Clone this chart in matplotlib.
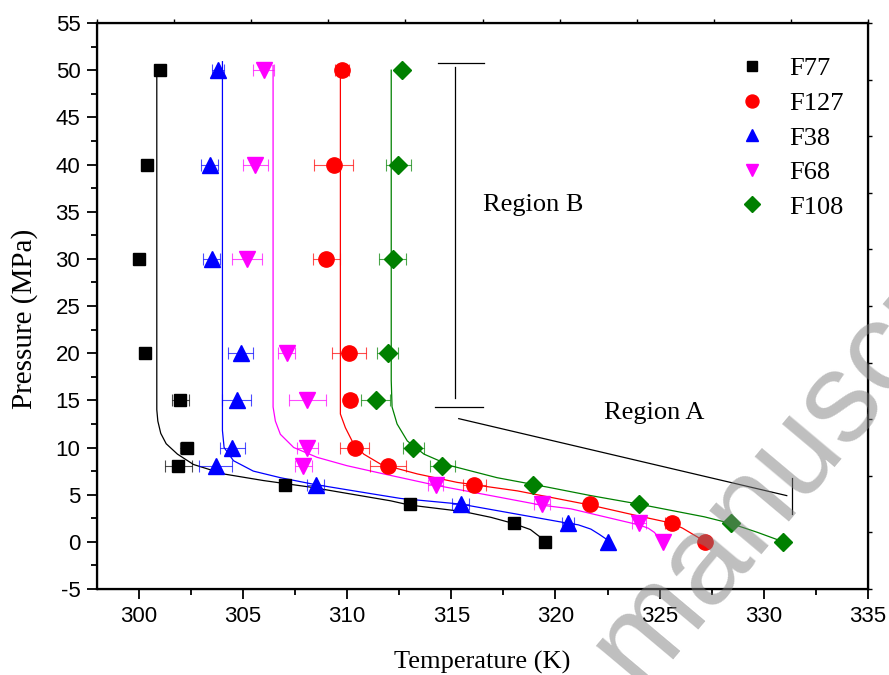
import matplotlib
matplotlib.use('Agg')
import matplotlib.pyplot as plt
from matplotlib.lines import Line2D

plt.rcParams['axes.unicode_minus'] = False

# measured points (temperature K at each pressure MPa)
pressure = [50, 40, 30, 20, 15, 10, 8, 6, 4, 2, 0]

t_f77 = [301.0, 300.4, 300.0, 300.3, 302.0, 302.3, 301.9, 307.0, 313.0, 318.0, 319.5]
t_f127 = [309.75, 309.35, 309.0, 310.1, 310.13, 310.36, 311.96, 316.1, 321.67, 325.58, 327.18]
t_f38 = [303.8, 303.4, 303.5, 304.9, 304.7, 304.5, 303.7, 308.5, 315.45, 320.6, 322.5]
t_f68 = [306.0, 305.6, 305.2, 307.1, 308.1, 308.1, 307.9, 314.25, 319.35, 324.0, 325.15]
t_f108 = [312.65, 312.45, 312.2, 311.95, 311.37, 313.18, 314.57, 318.9, 324.0, 328.43, 330.9]

err_f77 = [0, 0, 0, 0, 0.4, 0.3, 0.65, 0, 0, 0, 0]
err_f127 = [0.35, 0.95, 0.65, 0.8, 0.3, 0.7, 0.85, 0.55, 0, 0.3, 0]
err_f38 = [0.3, 0.4, 0.4, 0.6, 0.7, 0.6, 0.8, 0.4, 0.4, 0.3, 0]
err_f68 = [0.5, 0.6, 0.7, 0.4, 0.9, 0.5, 0.4, 0.35, 0.4, 0.35, 0]
err_f108 = [0, 0.6, 0.65, 0.5, 0.7, 0.5, 0.6, 0, 0, 0, 0]

# fitted curves, vertices
fit_f77_t = [300.87, 300.87, 300.92, 301.06, 301.32, 301.86, 302.63, 304.07, 305.98, 308.24,
             312.09, 313.0, 315.6, 316.9, 317.98, 318.8, 319.3, 319.5]
fit_f77_p = [49.9, 14.0, 12.8, 11.5, 10.4, 9.3, 8.2, 7.2, 6.5, 5.8,
             4.35, 3.9, 3.2, 2.6, 1.95, 1.3, 0.45, 0.0]
fit_f127_t = [309.68, 309.68, 309.92, 310.24, 310.8, 311.6, 313.37, 315.29, 318.18, 321.67,
              323.95, 325.58, 326.1, 326.9, 327.18]
fit_f127_p = [50.35, 13.55, 12.1, 10.7, 9.3, 8.25, 7.2, 6.3, 5.4, 3.9,
              2.76, 1.98, 1.45, 0.4, 0.03]
fit_f38_t = [304.02, 304.02, 304.1, 304.55, 305.5, 306.8, 308.4, 311.28, 312.57, 315.45,
             320.4, 321.1, 321.7, 322.1, 322.5]
fit_f38_p = [50.9, 11.8, 10.0, 8.6, 7.5, 6.8, 6.1, 5.06, 4.6, 4.0,
             2.05, 1.8, 1.35, 0.8, 0.2]
fit_f68_t = [306.45, 306.45, 306.56, 306.8, 307.44, 308.56, 310.0, 311.76, 314.25, 319.3,
             320.74, 324.0, 324.45, 324.75, 325.15]
fit_f68_p = [50.5, 14.3, 12.8, 11.4, 10.0, 8.96, 8.07, 7.2, 6.0, 3.9,
             3.5, 1.8, 1.45, 1.0, -0.1]
fit_f108_t = [312.12, 312.12, 312.16, 312.4, 312.89, 313.69, 314.97, 317.2, 319.62, 321.7,
              324.0, 327.15, 328.43, 329.7, 330.9]
fit_f108_p = [50.0, 17.1, 14.3, 12.5, 10.7, 9.3, 8.07, 6.8, 5.8, 4.9,
              4.0, 2.65, 1.94, 1.0, 0.03]

# region brackets
reg_b_top_t = [314.35, 316.56]
reg_b_top_p = [50.8, 50.8]
reg_b_vert_t = [315.16, 315.16]
reg_b_vert_p = [50.3, 15.3]
reg_b_bot_t = [314.2, 316.5]
reg_b_bot_p = [14.3, 14.3]
reg_a_diag_t = [315.36, 331.1]
reg_a_diag_p = [13.06, 4.9]
reg_a_vert_t = [331.37, 331.37]
reg_a_vert_p = [6.8, 3.0]

serif = 'Liberation Serif'
sans = 'Liberation Sans'

fig = plt.figure(figsize=(8.89, 6.75), dpi=100)
ax = fig.add_axes([0.1091, 0.1274, 0.8673, 0.8385])

series = [
    ('F77', t_f77, err_f77, fit_f77_t, fit_f77_p, 'black', 's', 9),
    ('F127', t_f127, err_f127, fit_f127_t, fit_f127_p, 'red', 'o', 11),
    ('F38', t_f38, err_f38, fit_f38_t, fit_f38_p, 'blue', '^', 11),
    ('F68', t_f68, err_f68, fit_f68_t, fit_f68_p, 'magenta', 'v', 11),
    ('F108', t_f108, err_f108, fit_f108_t, fit_f108_p, 'green', 'D', 9),
]

handles = []
for name, t, err, ft, fp, c, mk, ms in series:
    ax.plot(ft, fp, color=c, lw=0.9, zorder=2)
    ax.errorbar(t, pressure, xerr=err, fmt='none', ecolor=c, elinewidth=0.8,
                capsize=4, capthick=0.8, alpha=0.7, zorder=3)
    ax.plot(t, pressure, ls='none', marker=mk, ms=ms, color=c, mec=c, zorder=4)
    handles.append(Line2D([], [], ls='none', marker=mk, ms=ms * 0.85, color=c))

for bt, bp in [(reg_b_top_t, reg_b_top_p), (reg_b_vert_t, reg_b_vert_p), (reg_b_bot_t, reg_b_bot_p),
               (reg_a_diag_t, reg_a_diag_p), (reg_a_vert_t, reg_a_vert_p)]:
    ax.plot(bt, bp, color='black', lw=0.9, zorder=2)

ax.text(316.51, 35.03, 'Region B', family=serif, fontsize=19, va='baseline', ha='left')
ax.text(322.34, 13.06, 'Region A', family=serif, fontsize=19, va='baseline', ha='left')

ax.set_xticks(range(300, 336, 5))
ax.set_yticks(range(-5, 56, 5))
ax.set_xticks([x + 2.5 for x in range(295, 335, 5)], minor=True)
ax.set_yticks([y + 2.5 for y in range(-5, 55, 5)], minor=True)
ax.set_xlim(298, 335)
ax.set_ylim(-5, 55)
ax.tick_params(which='major', direction='out', length=7, width=1.3, labelsize=16, pad=5)
ax.tick_params(which='minor', direction='out', length=4.5, width=1.3)
for lab in ax.get_xticklabels() + ax.get_yticklabels():
    lab.set_family(sans)
for sp in ax.spines.values():
    sp.set_linewidth(1.6)

ax.set_xlabel('Temperature (K)', family=serif, fontsize=19)
ax.xaxis.set_label_coords(0.5, -0.11)
ax.set_ylabel('Pressure (MPa)', family=serif, fontsize=21)
ax.yaxis.set_label_coords(-0.076, 0.477)

# Origin style ticks on top / right (10 equal divisions, no labels)
ax_t = ax.twiny()
ax_t.set_xlim(0, 10)
ax_t.set_xticks(range(11))
ax_t.tick_params(axis='x', direction='out', length=3, width=1.0, labeltop=False)
ax_r = ax.twinx()
ax_r.set_ylim(0, 10)
ax_r.set_yticks(range(11))
ax_r.tick_params(axis='y', direction='out', length=3, width=1.0, labelright=False)

leg = ax_r.legend(handles, [s[0] for s in series], loc='upper left',
                  bbox_to_anchor=(739 / 889, 1 - 57 / 675), bbox_transform=fig.transFigure,
                  frameon=False, prop={'family': serif, 'size': 19}, labelspacing=0.42,
                  handlelength=1.0, handletextpad=0.9, borderpad=0, borderaxespad=0,
                  numpoints=1)

# watermark
fig.text(640 / 889, 1 - 690 / 675, 'manuscript', rotation=50, rotation_mode='anchor',
         ha='left', va='baseline', fontsize=92, family=sans, color='gray', alpha=0.5, zorder=10)

fig.savefig('out.png', dpi=100)
